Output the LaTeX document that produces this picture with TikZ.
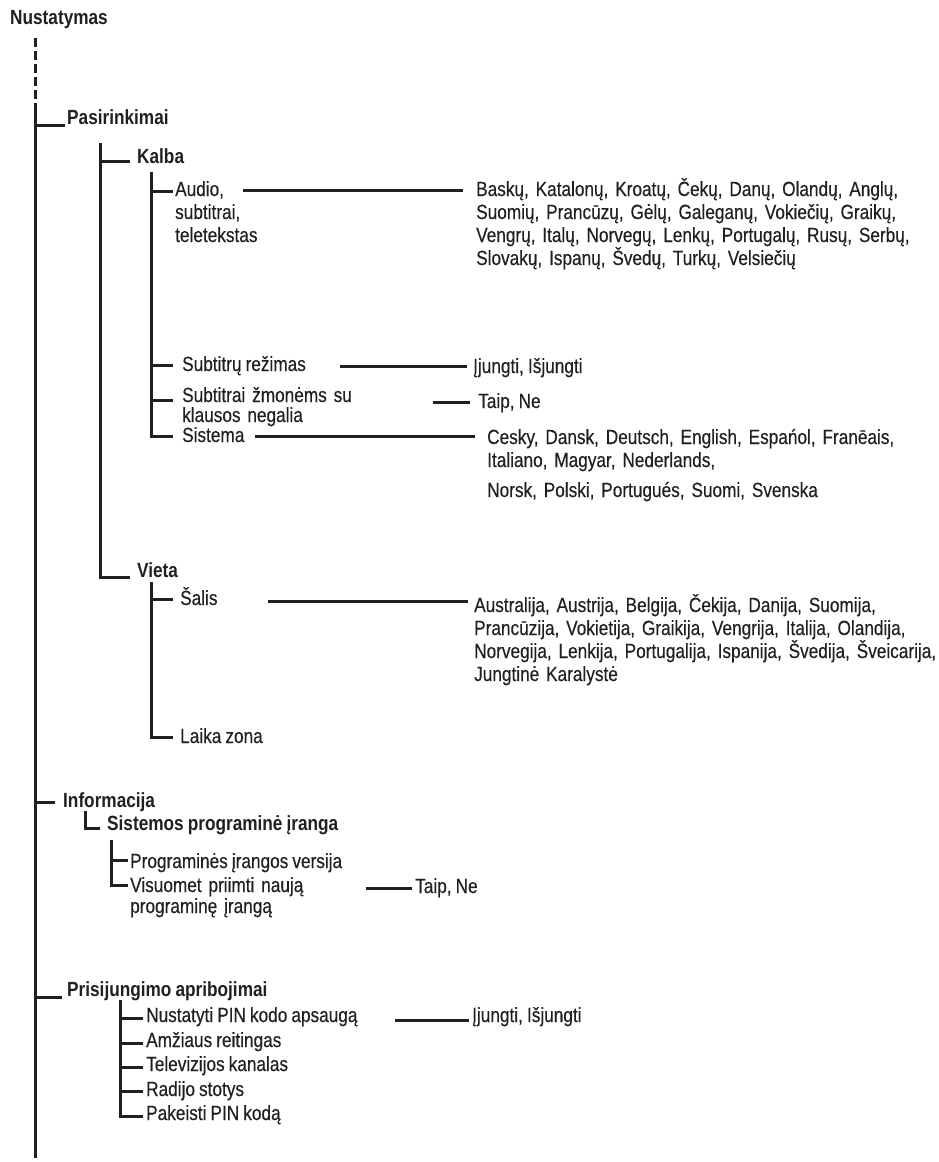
\documentclass[tikz,border=0pt]{standalone}
\usepackage{fontspec}
\setmainfont{Liberation Sans}[FakeStretch=0.84, WordSpace=0.85, UprightFeatures={FakeBold=0.3}]
\usepackage{xcolor}
\definecolor{ink}{HTML}{231F20}

\tikzset{
  item/.style={anchor=base west, inner sep=0pt, text=ink, font=\fontsize{20.5}{23}\selectfont},
  head/.style={item, font=\fontsize{20.5}{23}\selectfont\bfseries},
  multi/.style={item, text width=#1, align=left},
  multi/.default=470pt,
  tree/.style={draw=ink, line width=3pt},
  link/.style={draw=ink, line width=3pt},
}

\begin{document}
\begin{tikzpicture}[x=1pt,y=-1pt]
  \useasboundingbox[fill=white] (0,0) rectangle (939,1162);

  %Text Node: Nustatymas
  \node[head] (nust) at (10,24) {Nustatymas};
  %Text Node: Pasirinkimai
  \node[head] (pas) at (67,124) {Pasirinkimai};
  \node[head] (kalba) at (137,163) {Kalba};
  \node[multi=120pt] (audio) at (175,196) {Audio,\\subtitrai,\\teletekstas};
  \node[item] (subrez) at (182,371) {Subtitrų režimas};
  \node[multi=200pt, font=\fontsize{20.5}{20}\selectfont] (subneg) at (182,402) {Subtitrai žmonėms su\\klausos negalia};
  \node[item] (sist) at (182,442) {Sistema};
  \node[head] (vieta) at (137,577) {Vieta};
  \node[item] (salis) at (180,605) {Šalis};
  \node[item] (laika) at (180,743) {Laika zona};

  %Text Node: lists on the right
  \node[multi] (langs) at (476,196) {Baskų, Katalonų, Kroatų, Čekų, Danų, Olandų, Anglų,\\
    Suomių, Prancūzų, Gėlų, Galeganų, Vokiečių, Graikų,\\
    Vengrų, Italų, Norvegų, Lenkų, Portugalų, Rusų, Serbų,\\
    Slovakų, Ispanų, Švedų, Turkų, Velsiečių};
  \node[item] (onoffa) at (473,373) {Įjungti, Išjungti};
  \node[item] (yesnoa) at (478,408) {Taip, Ne};
  \node[multi] (syslangs) at (487,444) {Cesky, Dansk, Deutsch, English, Espańol, Franēais,\\
    Italiano, Magyar, Nederlands,\\[7pt]
    Norsk, Polski, Portugués, Suomi, Svenska};
  \node[multi] (countries) at (474,612) {Australija, Austrija, Belgija, Čekija, Danija, Suomija,\\
    Prancūzija, Vokietija, Graikija, Vengrija, Italija, Olandija,\\
    Norvegija, Lenkija, Portugalija, Ispanija, Švedija, Šveicarija,\\
    Jungtinė Karalystė};

  %Text Node: Informacija
  \node[head] (info) at (63,807) {Informacija};
  \node[head] (sisprog) at (107,830) {Sistemos programinė įranga};
  \node[item] (progver) at (130,868) {Programinės įrangos versija};
  \node[multi=250pt, font=\fontsize{20.5}{21}\selectfont] (visuomet) at (130,892) {Visuomet priimti naują\\programinę įrangą};
  \node[item] (yesnob) at (415,893) {Taip, Ne};

  %Text Node: Prisijungimo apribojimai
  \node[head] (pris) at (67,996) {Prisijungimo apribojimai};
  \node[item] (nustpin) at (146,1022) {Nustatyti PIN kodo apsaugą};
  \node[item] (amz) at (146,1047) {Amžiaus reitingas};
  \node[item] (tv) at (146,1071) {Televizijos kanalas};
  \node[item] (radio) at (146,1096) {Radijo stotys};
  \node[item] (pakeisti) at (146,1120) {Pakeisti PIN kodą};
  \node[item] (onoffb) at (472,1022) {Įjungti, Išjungti};

  %Coordinates: tops of the tree lines and free line ends
  \coordinate (lone-dash) at (35,38);
  \coordinate (lone) at (35,110);
  \coordinate (lone-end) at (35,1158);
  \coordinate (ltwo) at (100,143);
  \coordinate (lthree) at (151,172);
  \coordinate (lfour) at (151,582);
  \coordinate (lfive) at (85,811);
  \coordinate (lsix) at (111,840);
  \coordinate (lseven) at (120,1000);
  \coordinate (audio-o) at (243,190);
  \coordinate (subrez-o) at (340,366);
  \coordinate (subneg-o) at (433,402);
  \coordinate (sist-o) at (255,436);
  \coordinate (salis-o) at (268,601);
  \coordinate (visuomet-o) at (366,888);
  \coordinate (nustpin-o) at (395,1020);

  %Straight Lines: main trunk
  \draw[tree, dash pattern=on 9pt off 4pt] (lone-dash) -- (lone);
  \draw[tree] (lone) -- (lone-end);
  \draw[tree] (lone) |- ([xshift=-2pt,yshift=-1pt]pas.base west);
  \draw[tree] (lone) |- ([xshift=-8pt,yshift=5pt]info.base west);
  \draw[tree] (lone) |- ([xshift=-5pt,yshift=-1pt]pris.base west);

  %Straight Lines: Pasirinkimai
  \draw[tree] (ltwo) |- ([xshift=-7pt,yshift=2pt]kalba.base west);
  \draw[tree] (ltwo) |- ([xshift=-7pt]vieta.base west);
  \draw[tree] (lthree) |- ([xshift=-2pt,yshift=5pt]audio.base west);
  \draw[tree] (lthree) |- ([xshift=-9pt,yshift=6pt]subrez.base west);
  \draw[tree] (lthree) |- ([xshift=-9pt,yshift=2pt]subneg.base west);
  \draw[tree] (lthree) |- ([xshift=-9pt,yshift=6pt]sist.base west);
  \draw[tree] (lfour) |- ([xshift=-7pt,yshift=6pt]salis.base west);
  \draw[tree] (lfour) |- ([xshift=-7pt,yshift=6pt]laika.base west);

  %Straight Lines: Informacija
  \draw[tree] (lfive) |- ([xshift=-7pt,yshift=2pt]sisprog.base west);
  \draw[tree] (lsix) |- ([xshift=-2pt,yshift=8pt]progver.base west);
  \draw[tree] (lsix) |- ([xshift=-2pt,yshift=7pt]visuomet.base west);

  %Straight Lines: Prisijungimo apribojimai
  \foreach \n/\dy in {nustpin/4,amz/4,tv/4,radio/5,pakeisti/4}
    \draw[tree] (lseven) |- ([xshift=-3pt,yshift=\dy pt]\n.base west);

  %Straight Lines: to the value lists
  \draw[link] (audio-o) -- ([xshift=-13pt,yshift=6pt]langs.base west);
  \draw[link] (subrez-o) -- ([xshift=-6pt,yshift=7pt]onoffa.base west);
  \draw[link] (subneg-o) -- ([xshift=-8pt,yshift=6pt]yesnoa.base west);
  \draw[link] (sist-o) -- ([xshift=-12pt,yshift=8pt]syslangs.base west);
  \draw[link] (salis-o) -- ([xshift=-6pt,yshift=11pt]countries.base west);
  \draw[link] (visuomet-o) -- ([xshift=-3pt,yshift=5pt]yesnob.base west);
  \draw[link] (nustpin-o) -- ([xshift=-3pt,yshift=2pt]onoffb.base west);
\end{tikzpicture}
\end{document}
